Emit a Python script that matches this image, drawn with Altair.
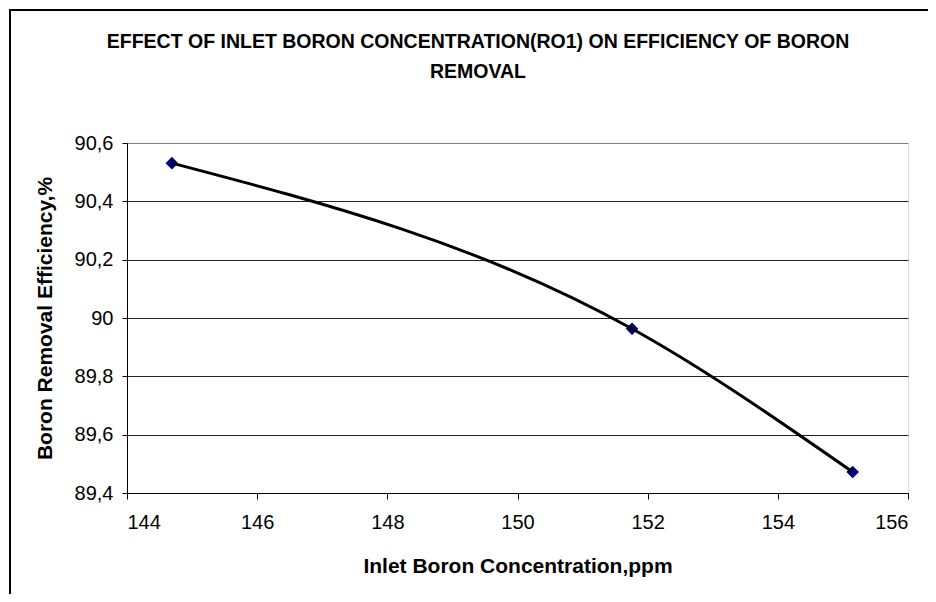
import altair as alt
import pandas as pd

# Data
inlet_boron_ppm = [144.69, 151.76, 155.15]
removal_efficiency = [90.531, 89.963, 89.472]
y_ticks = [89.4, 89.6, 89.8, 90.0, 90.2, 90.4, 90.6]
x_ticks = [144, 146, 148, 150, 152, 154, 156]

title_lines = ["EFFECT OF INLET BORON CONCENTRATION(RO1) ON EFFICIENCY OF BORON", "REMOVAL"]
x_title = "Inlet Boron Concentration,ppm"
y_title = "Boron Removal Efficiency,%"

df = pd.DataFrame({"x": inlet_boron_ppm, "y": removal_efficiency})

FONT = "Liberation Sans"
W, H = 781, 350

x_enc = alt.X(
    "x:Q",
    scale=alt.Scale(domain=[144, 156], nice=False, zero=False),
    axis=alt.Axis(
        values=x_ticks, format="d", title=x_title, grid=False,
        labelFont=FONT, labelFontSize=20, labelColor="#000", labelPadding=13,
        tickSize=6, tickColor="#000", domainColor="#000",
        titleFont=FONT, titleFontSize=21, titleFontWeight="bold", titleColor="#000",
        titleY=73, titleBaseline="middle",
    ),
)
y_enc = alt.Y(
    "y:Q",
    scale=alt.Scale(domain=[89.4, 90.6], nice=False, zero=False),
    axis=alt.Axis(
        values=y_ticks,
        labelExpr="replace(format(datum.value, '~g'), '.', ',')",
        title=y_title, grid=True,
        gridColor={"condition": {"test": "datum.value > 90.5", "value": "#808080"}, "value": "#222222"},
        gridWidth=1,
        labelFont=FONT, labelFontSize=20, labelColor="#000", labelPadding=9,
        tickSize=5, tickColor="#000", domainColor="#000",
        titleFont=FONT, titleFontSize=21, titleFontWeight="bold", titleColor="#000",
        titleX=-82, titleY=H / 2, titleAngle=-90, titleAlign="center", titleBaseline="middle",
    ),
)

base = alt.Chart(df)
points = base.mark_point(shape="diamond", filled=True, size=160, color="#000080", opacity=1).encode(x=x_enc, y=y_enc)
line = base.mark_line(color="#000000", strokeWidth=3, interpolate="monotone").encode(x="x:Q", y="y:Q")

frame_data = alt.Data(values=[{"a": 1}])
frame_top = alt.Chart(frame_data).mark_rule(color="#000", strokeWidth=2).encode(
    x=alt.value(-118), x2=alt.value(820), y=alt.value(-133)
)
frame_left = alt.Chart(frame_data).mark_rule(color="#000", strokeWidth=2).encode(
    x=alt.value(-117), y=alt.value(-134), y2=alt.value(470)
)

title_layers = []
for i, line_text in enumerate(title_lines):
    title_layers.append(
        alt.Chart(alt.Data(values=[{"t": line_text}])).mark_text(
            font=FONT, fontSize=19.5, fontWeight="bold", color="#000",
            align="center", baseline="alphabetic",
        ).encode(text="t:N", x=alt.value(351), y=alt.value(-95 + 30 * i))
    )

chart = alt.layer(points, line, frame_top, frame_left, *title_layers).properties(
    width=W, height=H,
    autosize=alt.AutoSizeParams(type="none"),
    padding={"left": 119, "top": 135, "right": 20, "bottom": 101},
).configure_view(
    fill="#C0C0C0", stroke="#808080", strokeWidth=1.5
).configure(background="#FFFFFF")

chart.save("out.html", embed_options={"renderer": "svg", "actions": False})
